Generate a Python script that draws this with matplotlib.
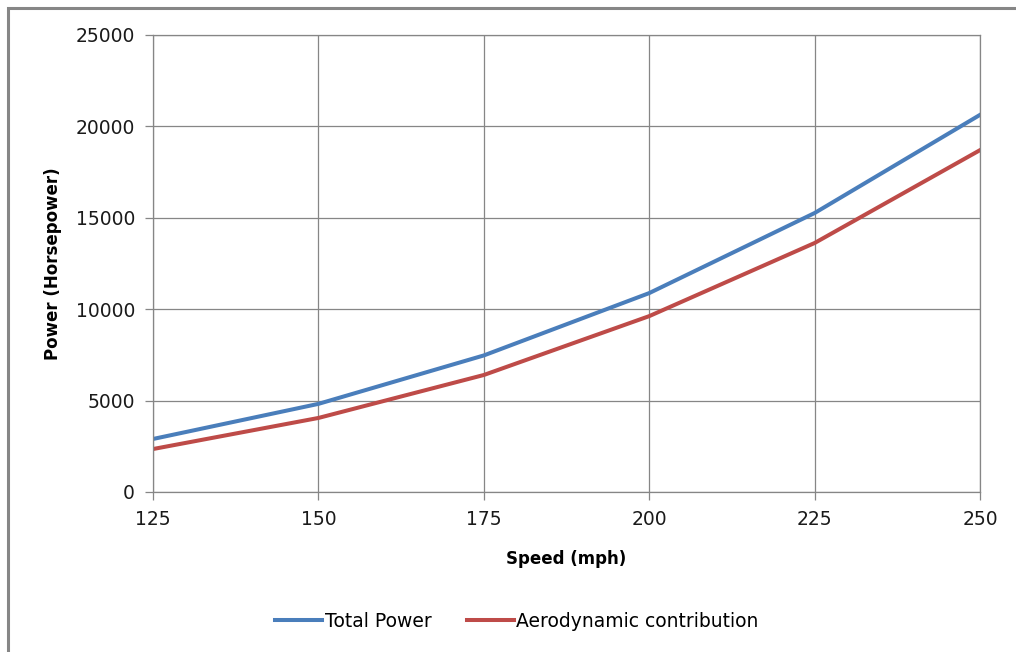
import matplotlib.pyplot as plt
from matplotlib.patches import Rectangle

# speeds and power values
speed = [125, 150, 175, 200, 225, 250]
total_power = [2900, 4820, 7470, 10880, 15260, 20630]
aero_power = [2350, 4050, 6400, 9620, 13620, 18700]

y_ticks = [0, 5000, 10000, 15000, 20000, 25000]


def main():
    plt.rcParams['font.family'] = ['DejaVu Sans']
    fig = plt.figure(figsize=(10.16, 6.52), dpi=100)
    ax = fig.add_axes([0.1506, 0.2454, 0.814, 0.701])

    ax.plot(speed, total_power, color='#4A7EBB', lw=2.9, label='Total Power')
    ax.plot(speed, aero_power, color='#BE4B48', lw=2.9, label='Aerodynamic contribution')

    ax.set_xlim(125, 250)
    ax.set_ylim(0, 25000)
    ax.set_xticks(speed)
    ax.set_yticks(y_ticks)
    ax.grid(True, color='#868686', lw=0.9)
    ax.set_axisbelow(True)
    for s in ax.spines:
        ax.spines[s].set_color('#868686')
        ax.spines[s].set_linewidth(0.9)
    ax.tick_params(colors='#868686', labelcolor='#1a1a1a', labelsize=13.5,
                   length=6, width=0.9)
    ax.tick_params(axis='y', pad=7)
    ax.tick_params(axis='x', pad=7)

    ax.set_xlabel('Speed (mph)', fontsize=12, fontweight='bold', labelpad=15)
    ax.set_ylabel('Power (Horsepower)', fontsize=12, fontweight='bold', labelpad=10)

    ax.legend(loc='upper center', bbox_to_anchor=(0.44, -0.225), ncol=2,
              frameon=False, fontsize=13.5, handlelength=2.5, handletextpad=0.12,
              columnspacing=1.9)

    # outer chart border
    fig.patches.append(Rectangle((8 / 1016, -0.05), 1.1, 1 - 8 / 652 + 0.05,
                                 transform=fig.transFigure, fill=False,
                                 edgecolor='#868686', lw=2.2))

    fig.savefig('out.png', dpi=100)


if __name__ == "__main__":
    main()
